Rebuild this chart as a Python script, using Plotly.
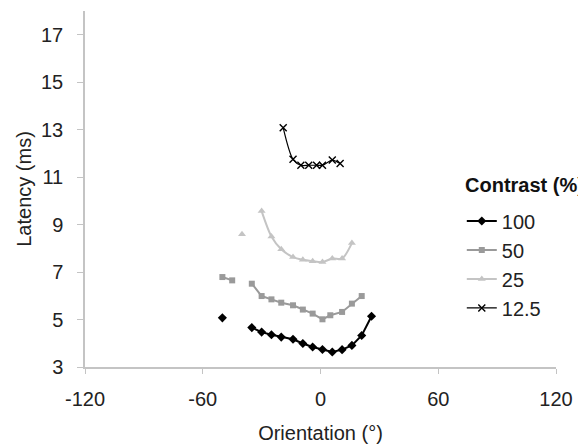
import plotly.graph_objects as go

# Contrast 100 %
x100 = [-50, None, -35, -30, -25, -20, -14, -9, -4, 1, 6, 11, 16, 21, 26]
y100 = [5.07, None, 4.66, 4.47, 4.36, 4.26, 4.17, 3.99, 3.84, 3.74, 3.63, 3.73, 3.91, 4.33, 5.14]

# Contrast 50 %
x50 = [-50, -45, None, -35, -30, -25, -20, -14, -9, -4, 1, 5, 11, 16, 21]
y50 = [6.79, 6.65, None, 6.51, 5.99, 5.85, 5.71, 5.60, 5.42, 5.25, 5.01, 5.18, 5.32, 5.67, 5.99]

# Contrast 25 %
x25 = [-40, None, -30, -25, -20, -14, -9, -4, 1, 6, 11, 16]
y25 = [8.59, None, 9.57, 8.50, 7.96, 7.63, 7.52, 7.46, 7.42, 7.57, 7.57, 8.22]

# Contrast 12.5 %
x12 = [-19, -14, -10, -6, -2, 1, 6, 10]
y12 = [13.08, 11.75, 11.50, 11.50, 11.50, 11.50, 11.72, 11.57]

x_ticks = [-120, -60, 0, 60, 120]
x_tick_labels = ["-120", "-60", "0", "60", "120"]
y_ticks = [3, 5, 7, 9, 11, 13, 15, 17]

FONT = "Liberation Sans, Arial, sans-serif"

fig = go.Figure()
fig.add_trace(go.Scatter(x=x100, y=y100, name="100", legendgroup="a", mode="lines+markers",
                         connectgaps=False,
                         line=dict(color="black", width=2),
                         marker=dict(symbol="diamond", size=7, color="black")))
fig.add_trace(go.Scatter(x=x50, y=y50, name="50", legendgroup="b", mode="lines+markers",
                         connectgaps=False,
                         line=dict(color="#9a9a9a", width=2),
                         marker=dict(symbol="square", size=6, color="#9a9a9a")))
fig.add_trace(go.Scatter(x=x25, y=y25, name="25", legendgroup="c", mode="lines+markers",
                         connectgaps=False,
                         line=dict(color="#c4c4c4", width=2, shape="spline", smoothing=0.8),
                         marker=dict(symbol="triangle-up", size=7, color="#c4c4c4")))
fig.add_trace(go.Scatter(x=x12, y=y12, name="12.5", legendgroup="d", mode="lines+markers",
                         line=dict(color="black", width=1.2, shape="spline", smoothing=0.8),
                         marker=dict(symbol="x-thin", size=7,
                                     line=dict(color="black", width=1.4))))

fig.add_annotation(text="<b>Contrast (%)</b>", xref="paper", yref="paper",
                   x=0.8025, y=0.511, xanchor="left", yanchor="middle",
                   showarrow=False, font=dict(size=20, color="#111111"))

fig.update_layout(
    width=586, height=446,
    margin=dict(l=77, r=38, t=3, b=87),
    paper_bgcolor="white", plot_bgcolor="white",
    font=dict(family=FONT, size=20, color="#222222"),
    showlegend=True,
    legend=dict(x=0.80, y=0.465, xanchor="left", yanchor="top",
                bgcolor="rgba(0,0,0,0)", traceorder="grouped",
                font=dict(size=20, color="#222222"),
                tracegroupgap=0, itemwidth=30),
    xaxis=dict(range=[-120, 120], tickvals=x_ticks, ticktext=x_tick_labels,
               showgrid=False, zeroline=False,
               showline=True, linecolor="#c4c4c4", linewidth=1.5,
               ticks="outside", ticklen=5, tickcolor="#c4c4c4",
               ticklabelstandoff=8,
               tickfont=dict(size=20),
               title=dict(text="Orientation (°)", font=dict(size=20), standoff=17)),
    yaxis=dict(range=[3, 18], tickvals=y_ticks, showgrid=False, zeroline=False,
               showline=True, linecolor="#c4c4c4", linewidth=1.5,
               ticks="outside", ticklen=6, tickcolor="#c4c4c4",
               ticklabelstandoff=10,
               tickfont=dict(size=20),
               title=dict(text="Latency (ms)", font=dict(size=20), standoff=4)),
)

fig.write_html("out.html")
